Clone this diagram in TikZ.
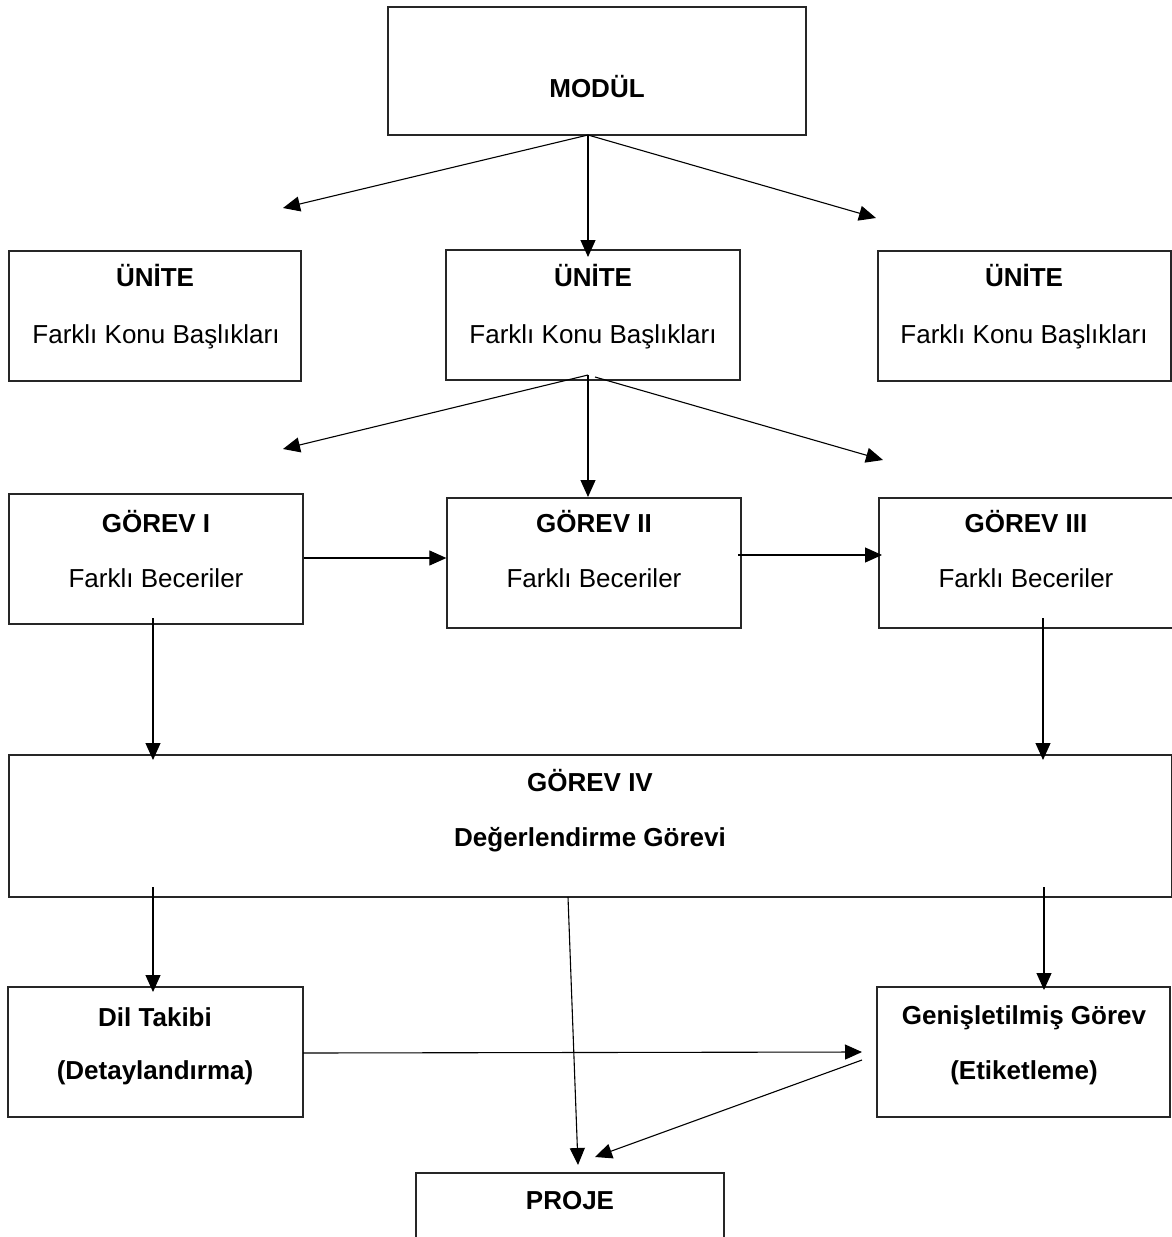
\documentclass[tikz,border=0pt]{standalone}
\usepackage{fontspec}
\setmainfont{Liberation Sans}
\usetikzlibrary{arrows.meta,calc}

\begin{document}
\begin{tikzpicture}[x=1pt,y=-1pt,
  box/.style={draw=black!85, line width=1.3pt, rectangle, inner sep=0pt},
  lbl/.style={font=\fontsize{26pt}{31pt}\selectfont, anchor=base, inner sep=0pt},
  blbl/.style={font=\fontsize{26pt}{31pt}\selectfont\bfseries, anchor=base, inner sep=0pt},
  conn/.style={line width=1.1pt, draw=black, -{Triangle[length=17pt,width=15pt]}}]

\useasboundingbox (0,0) rectangle (1172,1237);

% boxes
\node[box, minimum width=418pt, minimum height=128pt] (modul) at (597,71) {};
\node[box, minimum width=292pt, minimum height=130pt] (u1) at (155,316) {};
\node[box, minimum width=294pt, minimum height=130pt] (u2) at (593,315) {};
\node[box, minimum width=293pt, minimum height=130pt] (u3) at (1024.5,316) {};
\node[box, minimum width=294pt, minimum height=130pt] (g1) at (156,559) {};
\node[box, minimum width=294pt, minimum height=130pt] (g2) at (594,563) {};
\node[box, minimum width=294pt, minimum height=130pt] (g3) at (1026,563) {};
\node[box, minimum width=1163pt, minimum height=142pt] (g4) at (590.5,826) {};
\node[box, minimum width=295pt, minimum height=130pt] (dil) at (155.5,1052) {};
\node[box, minimum width=293pt, minimum height=130pt] (gen) at (1023.5,1052) {};
\node[box, minimum width=308pt, minimum height=130pt] (proje) at (570,1238) {};

% texts
\node[blbl] (tmodul) at (597,97) {MODÜL};
\node[blbl] (tu1a) at (155,286) {ÜNİTE};
\node[lbl]  (tu1b) at (156,343) {Farklı Konu Başlıkları};
\node[blbl] (tu2a) at (593,286) {ÜNİTE};
\node[lbl]  (tu2b) at (593,343) {Farklı Konu Başlıkları};
\node[blbl] (tu3a) at (1024,286) {ÜNİTE};
\node[lbl]  (tu3b) at (1024,343) {Farklı Konu Başlıkları};
\node[blbl] (tg1a) at (156,532) {GÖREV I};
\node[lbl]  (tg1b) at (156,587) {Farklı Beceriler};
\node[blbl] (tg2a) at (594,532) {GÖREV II};
\node[lbl]  (tg2b) at (594,587) {Farklı Beceriler};
\node[blbl] (tg3a) at (1026,532) {GÖREV III};
\node[lbl]  (tg3b) at (1026,587) {Farklı Beceriler};
\node[blbl] (tg4a) at (590,791) {GÖREV IV};
\node[blbl] (tg4b) at (590,846) {Değerlendirme Görevi};
\node[blbl] (tdila) at (155,1026) {Dil Takibi};
\node[blbl] (tdilb) at (155,1079) {(Detaylandırma)};
\node[blbl] (tgena) at (1024,1024) {Genişletilmiş Görev};
\node[blbl] (tgenb) at (1024,1079) {(Etiketleme)};
\node[blbl] (tproje) at (570,1209) {PROJE};

% connector end points
\coordinate (m0) at (588,135);
\coordinate (mL) at (283,208);
\coordinate (mC) at (588,257);
\coordinate (mR) at (876,218);
\coordinate (n0) at (588,375);
\coordinate (n0r) at (595,377);
\coordinate (nL) at (283,449);
\coordinate (nC) at (588,497);
\coordinate (nR) at (883,460);
\coordinate (g2s) at (738,555);
\coordinate (g3w) at (882,555);
\coordinate (g1s) at (153,618);
\coordinate (g1t) at (153,760);
\coordinate (g3s) at (1043,618);
\coordinate (g3t) at (1043,760);
\coordinate (g4l) at (153,887);
\coordinate (dilt) at (153,992);
\coordinate (g4r) at (1044,887);
\coordinate (gent) at (1044,990);
\coordinate (dile) at (303,1053);
\coordinate (gent2) at (862,1052);
\coordinate (g4m) at (568,897);
\coordinate (pt1) at (578,1165);
\coordinate (gens) at (862,1060);
\coordinate (pt2) at (595,1157);

% connectors
\draw[conn] (m0) -- (mL);
\draw[conn] (m0) -- (mC);
\draw[conn] (m0) -- (mR);
\draw[conn] (n0) -- (nL);
\draw[conn] (n0) -- (nC);
\draw[conn] (n0r) -- (nR);
\draw[conn] (g1.east |- 0,558) -- (g2.west |- 0,558);
\draw[conn] (g2s) -- (g3w);
\draw[conn] (g1s) -- (g1t);
\draw[conn] (g3s) -- (g3t);
\draw[conn] (g4l) -- (dilt);
\draw[conn] (g4r) -- (gent);
\draw[conn] (dile) -- (gent2);
\draw[conn] (g4m) -- (pt1);
\draw[conn] (gens) -- (pt2);
\end{tikzpicture}
\end{document}
